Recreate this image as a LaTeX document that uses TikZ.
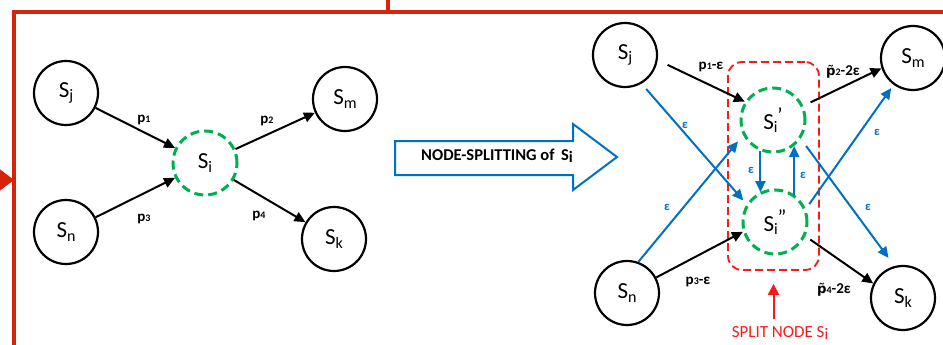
\documentclass[tikz,border=0pt]{standalone}
\usepackage{fontspec}
\setmainfont{Carlito}
\newfontfamily\markfont{DejaVu Sans}[Scale=0.88]
\usetikzlibrary{arrows.meta}

\definecolor{framered}{RGB}{215,35,10}
\definecolor{splitred}{RGB}{250,25,25}
\definecolor{dashgreen}{RGB}{0,176,80}
\definecolor{linkblue}{RGB}{0,112,192}

% lowered subscript letter for state names
\newcommand\lowsub[1]{\raisebox{-0.3ex}{\fontsize{16}{16}\selectfont #1}}
% state name with subscript and a prime mark above it
\newcommand\primed[2]{\rlap{\raisebox{-0.3ex}{\fontsize{16}{16}\selectfont #1}}\raisebox{0.6ex}{\fontsize{21}{21}\selectfont\,#2}}
% small probability index
\newcommand\pidx[1]{\raisebox{0ex}{\fontsize{10}{10}\selectfont #1}}
% p with a tilde above it
\newcommand\tildep{{\markfont p̃}}

\tikzset{
  state/.style={circle, draw, line width=2.2pt, minimum size=64pt, inner sep=0pt,
                font=\fontsize{23}{23}\selectfont},
  splitstate/.style={state, draw=dashgreen, line width=3pt, dash pattern=on 9pt off 5pt},
  flow/.style={-{Triangle[length=11pt,width=10pt]}, line width=2pt},
  eflow/.style={flow, draw=linkblue, line width=2pt},
  plab/.style={font=\bfseries\fontsize{15}{15}\selectfont, inner sep=1pt},
  elab/.style={text=linkblue, font=\bfseries\fontsize{12.5}{12.5}\selectfont, inner sep=1pt},
  frame/.style={draw=framered, line width=3.6pt},
}

\begin{document}
\begin{tikzpicture}[x=1pt, y=-1pt]
\useasboundingbox (0,0) rectangle (943,345);

% outer frame
\draw[frame] (14,347) -- (14,12) -- (945,12);
\draw[frame] (388,-2) -- (388,12);
\coordinate (feedA) at (-2,180);
\coordinate (feedB) at (14,180);
\draw[framered, line width=1pt, -{Triangle[length=14pt,width=21pt]}] (feedA) -- (feedB);

% original chain around S_i
\node[state] (Lj) at (66,93) {S\lowsub{j}};
\node[state] (Ln) at (66,232) {S\lowsub{n}};
\node[splitstate] (Li) at (205,163) {S\lowsub{i}};
\node[state] (Lm) at (345,99) {S\lowsub{m}};
\node[state] (Lk) at (334,239) {S\lowsub{k}};

\draw[flow] (Lj) -- (Li);
\draw[flow] (Ln) -- (Li);
\draw[flow] (Li) -- (Lm);
\draw[flow] (Li) -- (Lk);

\node[plab] at (144,120) {p\pidx{1}};
\node[plab] at (267,121) {p\pidx{2}};
\node[plab] at (144,219) {p\pidx{3}};
\node[plab] at (259,216) {p\pidx{4}};

% transformation arrow
\draw[linkblue, line width=2pt, line join=miter]
  (395,141) -- (573,141) -- (573,124) -- (617,157) -- (573,190) -- (573,175) -- (395,175) -- cycle;
\node[font=\bfseries\fontsize{16.5}{16.5}\selectfont, inner sep=0pt] (op) at (497,156) {NODE-SPLITTING of \,S\lowsub{i}};

% split chain
\node[draw=splitred, line width=1.8pt, dash pattern=on 8pt off 4pt, rounded corners=14pt,
      minimum width=91pt, minimum height=208pt] (split) at (773.5,166) {};
\node[state] (Rj) at (625,55) {S\lowsub{j}};
\node[state] (Rm) at (913,58) {S\lowsub{m}};
\node[state] (Rn) at (627,293) {S\lowsub{n}};
\node[state] (Rk) at (903,298) {S\lowsub{k}};
\node[splitstate] (Ri1) at (773,120) {S\primed{i}{'}};
\node[splitstate] (Ri2) at (775,222) {S\primed{i}{''}};

\draw[flow, shorten <=11pt] (Rj.-9) -- (Ri1.147);
\draw[flow] (Rn.28) -- (Ri2.197);
\draw[flow, shorten <=8pt] (Ri1.25) -- (Rm.198);
\draw[flow, shorten <=6pt] (Ri2.-25) -- (Rk.154);

\draw[eflow, shorten <=7pt, shorten >=5pt] (Rj.-60) -- (Ri2.148);
\draw[eflow, shorten >=8pt] (Rn.70) -- (Ri1.207);
\draw[eflow, shorten <=9pt, shorten >=10pt] (Ri1.-34) -- (Rk.105);
\draw[eflow, shorten <=6pt, shorten >=4pt] (Ri2.23) -- (Rm.234);
\draw[eflow] (Ri1.248) -- (Ri1.248 |- Ri2.117);
\draw[eflow] (Ri2.55) -- (Ri2.55 |- Ri1.-51);

\node[plab] at (711,67) {p\pidx{1}-ε};
\node[plab] at (843,72) {\tildep\pidx{2}-2ε};
\node[plab] at (698,282) {p\pidx{3}-ε};
\node[plab] at (834,290) {\tildep\pidx{4}-2ε};

\node[elab] at (685,125) {ε};
\node[elab] at (667,207) {ε};
\node[elab] at (877,132) {ε};
\node[elab] at (868,207) {ε};
\node[elab] at (751,170) {ε};
\node[elab] at (803,175) {ε};

\node[text=splitred, font=\fontsize{17}{17}\selectfont, inner sep=1pt] (splitlbl) at (780,333) {SPLIT NODE S\lowsub{i}};
\coordinate (splitfoot) at (773.5,319);
\draw[splitred, line width=2pt, -{Triangle[length=11pt,width=11pt]}, shorten >=13pt]
  (splitfoot) -- (split.south);
\end{tikzpicture}
\end{document}
